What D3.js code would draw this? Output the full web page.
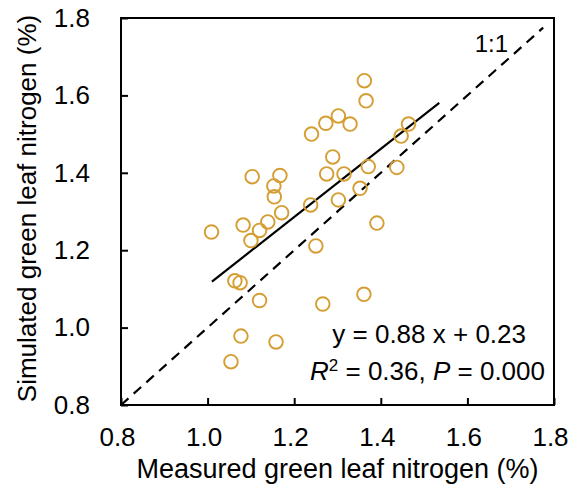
<!DOCTYPE html>
<html>
<head>
<meta charset="utf-8">
<script src="https://cdn.jsdelivr.net/npm/d3@7"></script>
<style>
  body { margin: 0; background: #fff; }
  text { font-family: "Liberation Sans", Arial, sans-serif; fill: #000; }
</style>
</head>
<body>
<div id="chart"></div>
<script>
// 读图估计的数据
const measured = [1.362, 1.366, 1.240, 1.273, 1.302, 1.329, 1.464, 1.447, 1.289, 1.371,
  1.437, 1.275, 1.315, 1.103, 1.167, 1.153, 1.154, 1.352, 1.302, 1.238,
  1.171, 1.009, 1.082, 1.139, 1.120, 1.100, 1.391, 1.250, 1.063, 1.075,
  1.120, 1.266, 1.361, 1.077, 1.158, 1.054];
const simulated = [1.638, 1.586, 1.500, 1.528, 1.547, 1.526, 1.526, 1.495, 1.441, 1.416,
  1.414, 1.397, 1.397, 1.390, 1.393, 1.366, 1.338, 1.360, 1.330, 1.317,
  1.297, 1.247, 1.265, 1.273, 1.251, 1.225, 1.270, 1.211, 1.121, 1.116,
  1.070, 1.061, 1.086, 0.978, 0.963, 0.912];
const ticks = [0.8, 1.0, 1.2, 1.4, 1.6, 1.8];
const fitSlope = 0.88, fitIntercept = 0.23;
const fitRange = [1.01, 1.535];
const oneToOne = [0.8, 1.775];

const width = 571, height = 494;
const margin = { top: 18, right: 17, bottom: 89, left: 121 };
const w = width - margin.left - margin.right;
const h = height - margin.top - margin.bottom;

const svg = d3.select("#chart").append("svg")
  .attr("width", width)
  .attr("height", height);

const g = svg.append("g")
  .attr("transform", `translate(${margin.left},${margin.top})`);

const x = d3.scaleLinear().domain([0.8, 1.8]).range([0, w]);
const y = d3.scaleLinear().domain([0.8, 1.8]).range([h, 0]);

// 坐标轴（刻度朝内）
const xAxis = g.append("g")
  .attr("transform", `translate(0,${h})`)
  .call(d3.axisBottom(x).tickValues(ticks).tickFormat(d3.format(".1f")).tickSizeInner(-7).tickSizeOuter(0).tickPadding(23));
const yAxis = g.append("g")
  .call(d3.axisLeft(y).tickValues(ticks).tickFormat(d3.format(".1f")).tickSizeInner(-7).tickSizeOuter(0).tickPadding(31));

[xAxis, yAxis].forEach(a => {
  a.select(".domain").remove();
  a.selectAll("line").attr("stroke", "#000").attr("stroke-width", 2);
  a.selectAll("text").style("font-size", "26px").attr("fill", "#000");
});
// x 刻度标签略微左移
xAxis.selectAll("text").attr("dx", -4);

// 边框
g.append("rect")
  .attr("width", w).attr("height", h)
  .attr("fill", "none").attr("stroke", "#000").attr("stroke-width", 2);

// 1:1 线
g.append("line")
  .attr("x1", x(oneToOne[0])).attr("y1", y(oneToOne[0]))
  .attr("x2", x(oneToOne[1])).attr("y2", y(oneToOne[1]))
  .attr("stroke", "#000").attr("stroke-width", 2.2)
  .attr("stroke-dasharray", "10,7");

// 回归线
g.append("line")
  .attr("x1", x(fitRange[0])).attr("y1", y(fitSlope * fitRange[0] + fitIntercept))
  .attr("x2", x(fitRange[1])).attr("y2", y(fitSlope * fitRange[1] + fitIntercept))
  .attr("stroke", "#000").attr("stroke-width", 2.2);

// 散点
g.selectAll(".pt")
  .data(measured.map((m, i) => [m, simulated[i]]))
  .enter()
  .append("circle")
  .attr("class", "pt")
  .attr("cx", d => x(d[0]))
  .attr("cy", d => y(d[1]))
  .attr("r", 6.8)
  .attr("fill", "none")
  .attr("stroke", "#D59E33")
  .attr("stroke-width", 1.9);

// 标注
g.append("text")
  .attr("x", 387).attr("y", 34)
  .attr("text-anchor", "end")
  .style("font-size", "24px")
  .text("1:1");

g.append("text")
  .attr("x", 405).attr("y", 325)
  .attr("text-anchor", "end")
  .style("font-size", "26px")
  .text("y = 0.88 x + 0.23");

const r2 = g.append("text")
  .attr("x", 424).attr("y", 362)
  .attr("text-anchor", "end")
  .style("font-size", "26px");
r2.append("tspan").attr("font-style", "italic").text("R");
r2.append("tspan").attr("dy", -9).style("font-size", "17px").text("2");
r2.append("tspan").attr("dy", 9).text(" = 0.36, ");
r2.append("tspan").attr("font-style", "italic").text("P");
r2.append("tspan").text(" = 0.000");

// 轴标题
svg.append("text")
  .attr("x", margin.left + w / 2).attr("y", 478)
  .attr("text-anchor", "middle")
  .style("font-size", "27px")
  .text("Measured green leaf nitrogen (%)");

svg.append("text")
  .attr("transform", `translate(36,${margin.top + h / 2 - 3}) rotate(-90)`)
  .attr("text-anchor", "middle")
  .style("font-size", "26px")
  .text("Simulated green leaf nitrogen (%)");
</script>
</body>
</html>
